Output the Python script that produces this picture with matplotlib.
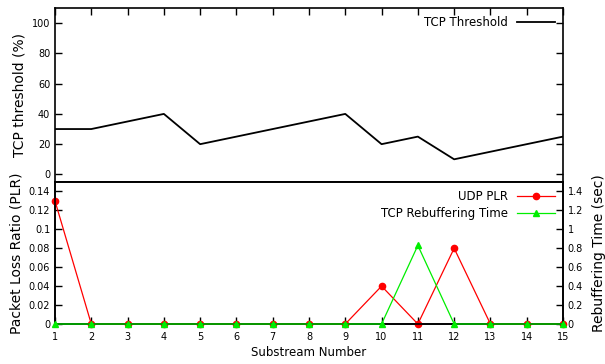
import numpy as np
import matplotlib
matplotlib.use("Agg")
import matplotlib.pyplot as plt

# ----------------------------------------------------------------------
# Data
# ----------------------------------------------------------------------
substreams = list(range(1, 16))
tcp_threshold = [30, 30, 35, 40, 20, 25, 30, 35, 40, 20, 25, 10, 15, 20, 25]
udp_plr = [0.13, 0, 0, 0, 0, 0, 0, 0, 0, 0.04, 0, 0.08, 0, 0, 0]
tcp_rebuffering = [0, 0, 0, 0, 0, 0, 0, 0, 0, 0, 0.83, 0, 0, 0, 0]

plr_ticks = [0, 0.02, 0.04, 0.06, 0.08, 0.1, 0.12, 0.14]
plr_labels = ["0", "0.02", "0.04", "0.06", "0.08", "0.1", "0.12", "0.14"]
rebuf_ticks = [0, 0.2, 0.4, 0.6, 0.8, 1.0, 1.2, 1.4]
rebuf_labels = ["0", "0.2", "0.4", "0.6", "0.8", "1", "1.2", "1.4"]

W, H = 605, 364
plt.rcParams["font.family"] = ["DejaVu Sans"]

fig = plt.figure(figsize=(W / 100, H / 100), dpi=100)

left, right = 55 / W, 563 / W
ax_top = fig.add_axes([left, (H - 182) / H, right - left, 174 / H])
ax_bot = fig.add_axes([left, (H - 324) / H, right - left, 142 / H])

tick_kw = dict(direction="in", length=5, width=1, labelsize=7)

# --- top panel: TCP threshold ---
ax_top.plot(substreams, tcp_threshold, color="black", lw=1.3, label="TCP Threshold")
ax_top.set_xlim(1, 15)
ax_top.set_ylim(-5, 110)
ax_top.set_yticks([0, 20, 40, 60, 80, 100])
ax_top.set_xticks(substreams)
ax_top.tick_params(axis="both", which="both", top=True, right=True, bottom=False,
                   labelbottom=False, **tick_kw)
ax_top.set_ylabel("TCP threshold (%)", fontsize=10, labelpad=4)
ax_top.legend(loc="upper right", frameon=False, markerfirst=False, fontsize=8.5,
              handlelength=3.2, borderaxespad=0.3)

# --- bottom panel: PLR (left) and rebuffering time (right) ---
l1, = ax_bot.plot(substreams, udp_plr, color="#ff0000", lw=0.9, marker="o",
                  markersize=4.5, label="UDP PLR", zorder=3, clip_on=False)
ax_bot.set_xlim(1, 15)
ax_bot.set_ylim(0, 0.15)
ax_bot.set_yticks(plr_ticks)
ax_bot.set_yticklabels(plr_labels)
ax_bot.set_xticks(substreams)
ax_bot.tick_params(axis="both", which="both", top=False, right=False, **tick_kw)
ax_bot.tick_params(axis="x", pad=6)
ax_bot.set_ylabel("Packet Loss Ratio (PLR)", fontsize=10, labelpad=4)
ax_bot.set_xlabel("Substream Number", fontsize=8.5, labelpad=3)

ax_r = ax_bot.twinx()
l2, = ax_r.plot(substreams, tcp_rebuffering, color="#00ee00", lw=0.9, marker="^",
                markersize=4, label="TCP Rebuffering Time", zorder=4, clip_on=False)
ax_r.set_ylim(0, 1.5)
ax_r.set_yticks(rebuf_ticks)
ax_r.set_yticklabels(rebuf_labels)
ax_r.tick_params(axis="y", **tick_kw)
ax_r.set_ylabel("Rebuffering Time (sec)", fontsize=10, labelpad=6)

ax_r.legend(handles=[l1, l2], loc="upper right", frameon=False, markerfirst=False,
            fontsize=8.5, handlelength=3.2, borderaxespad=0.3, labelspacing=0.3)

for a in (ax_top, ax_bot, ax_r):
    for s in a.spines.values():
        s.set_linewidth(1.2)

fig.savefig("out.png", dpi=100)
